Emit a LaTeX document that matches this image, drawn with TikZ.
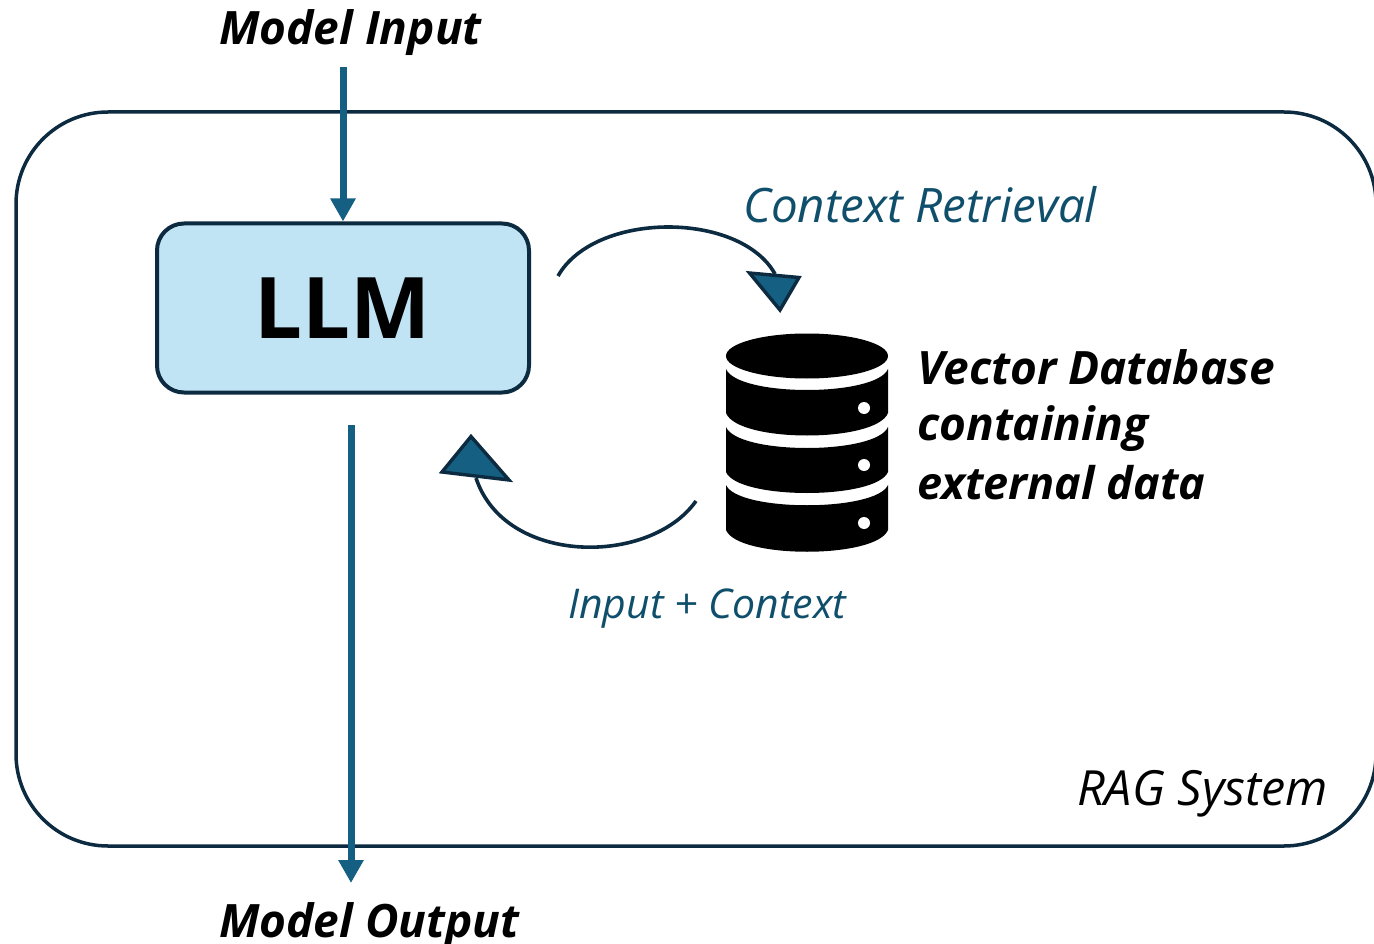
\documentclass[tikz,border=0pt]{standalone}
\usepackage{fontspec}
\setmainfont{Open Sans}
\usetikzlibrary{arrows.meta}
\definecolor{navy}{HTML}{0C2A40}
\definecolor{teal1}{HTML}{156082}
\definecolor{lblue}{HTML}{C1E4F5}
\definecolor{tealtxt}{HTML}{0F4F6B}
\tikzset{
 x=1pt,y=-1pt,
 flow/.style={draw=teal1,line width=7pt,-{Triangle[length=23pt,width=24pt]}},
 curve/.style={draw=navy,line width=3.6pt},
 tip/.style={draw=navy,fill=teal1,line width=3.4pt,miter limit=10},
 lab/.style={inner sep=0pt,anchor=base west,font=\fontsize{47.5}{52}\selectfont\itshape},
 blab/.style={lab,font=\fontsize{46}{52}\selectfont\itshape\bfseries},
 disk/.style={fill=black,draw=none},
}
\begin{document}
\begin{tikzpicture}
\useasboundingbox (0,0) rectangle (1374,944);
\clip (0,0) rectangle (1374,944);
\node[draw=navy,line width=3.5pt,outer sep=0pt,rounded corners=92pt,minimum width=1360pt,minimum height=734pt,anchor=north west,inner sep=0pt] (rag) at (16,112) {};
\node[draw=navy,fill=lblue,line width=4pt,rounded corners=27pt,minimum width=372pt,minimum height=169pt,inner sep=0pt,font=\fontsize{85}{90}\selectfont\bfseries] (llm) at (343,308) {LLM};
\node[blab] (in) at (219,45) {Model Input};
\node[blab] (out) at (219,937) {Model Output};
\coordinate (instart) at (343,67);
\coordinate (outstart) at (351,425);
\coordinate (outend) at (351,883);
\draw[flow] (instart) -- (llm.north);
\draw[flow] (outstart) -- (outend);
% database
\path[disk] (726,356) arc[x radius=81,y radius=22.5,start angle=180,end angle=540] -- cycle;
\path[disk] (726,369) .. controls (738,397) and (876,397) .. (888,369) -- (888,413) .. controls (876,443) and (738,443) .. (726,413) -- cycle;
\path[disk] (726,427) .. controls (738,455) and (876,455) .. (888,427) -- (888,472) .. controls (876,500) and (738,500) .. (726,472) -- cycle;
\path[disk] (726,485) .. controls (738,512) and (876,512) .. (888,485) -- (888,530) .. controls (876,559) and (738,559) .. (726,530) -- cycle;
\fill[white] (864,408) circle (6);
\fill[white] (864,465) circle (6);
\fill[white] (864,523) circle (6);
\coordinate (dbtop) at (775,274);
\coordinate (dbbot) at (696,501);
\coordinate (llmr) at (558,276);
\coordinate (llmb) at (476,478);
\draw[curve] (llmr) .. controls (595,211) and (740,211) .. (dbtop);
\draw[curve] (dbbot) .. controls (650,566) and (505,566) .. (llmb);
\draw[tip] (749.5,273) -- (799,277.5) -- (780,310) -- cycle;
\draw[tip] (442,472) -- (471,436.5) -- (509,480) -- cycle;
\node[lab,text=tealtxt] (ctx) at (743,223) {Context Retrieval};
\node[lab,text=tealtxt,font=\fontsize{41}{46}\selectfont\itshape] (ic) at (568,618) {Input + Context};
\node[lab,font=\fontsize{48.5}{52}\selectfont\itshape] (rs) at (1077,805) {RAG System};
\node[blab] (v1) at (917,384) {Vector Database};
\node[blab] (v2) at (917,440) {containing};
\node[blab,font=\fontsize{45}{52}\selectfont\itshape\bfseries] (v3) at (917,499) {external data};
\end{tikzpicture}
\end{document}
